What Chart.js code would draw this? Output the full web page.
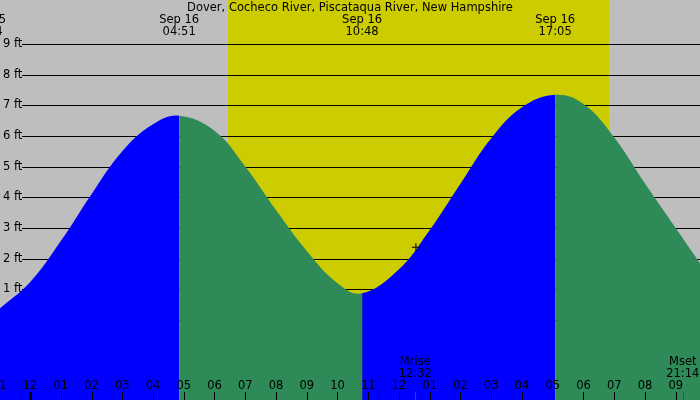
<!DOCTYPE html>
<html>
<head>
<meta charset="utf-8">
<script src="https://cdn.jsdelivr.net/npm/chart.js@4"></script>
<style>
  html, body { margin: 0; padding: 0; background: #bebebe; }
</style>
</head>
<body>
<canvas id="tideChart" width="700" height="400"></canvas>
<script>
// tide curve: hours after midnight Sep 16, height in ft
var hours   = [-0.976, 0, 1, 2, 3, 4, 4.85, 6, 7, 8, 9, 10, 10.8,
               12, 13, 14, 15, 16, 17.08, 18, 19, 20, 21, 21.79];
var heights = [0.38, 1.23, 2.57, 4.1, 5.5, 6.38, 6.66, 6.17, 5.0, 3.58, 2.25, 1.2, 0.87,
               1.65, 2.93, 4.44, 5.92, 6.93, 7.34, 7.04, 5.95, 4.45, 3.0, 1.85];

// high / low labels along the top
var extremeHours = [-1.43, 4.85, 10.80, 17.08];
var extremeDays  = ['Sep 15', 'Sep 16', 'Sep 16', 'Sep 16'];
var extremeTimes = ['22:34', '04:51', '10:48', '17:05'];

// daylight band
var sunHours = [6.44, 18.83];

// moon rise / set
var moonHours = [12.53, 21.23];
var moonNames = ['Mrise', 'Mset'];
var moonTimes = ['12:32', '21:14'];

// the small cross on the curve
var markerHour = 12.55;
var markerHeight = 2.37;

// hour ticks along the bottom
var hourTicks  = [-1, 0, 1, 2, 3, 4, 5, 6, 7, 8, 9, 10, 11, 12, 13, 14, 15, 16, 17, 18, 19, 20, 21];
var hourLabels = ['11', '12', '01', '02', '03', '04', '05', '06', '07', '08', '09', '10',
                  '11', '12', '01', '02', '03', '04', '05', '06', '07', '08', '09'];

var feetTicks = [0, 1, 2, 3, 4, 5, 6, 7, 8, 9];
var title = 'Dover, Cocheco River, Piscataqua River, New Hampshire';

var FONT = '11.5px "DejaVu Sans"';

var backgroundPlugin = {
    id: 'tideBackground',
    beforeDraw: function (chart) {
        var ctx = chart.ctx, x = chart.scales.x, area = chart.chartArea;
        ctx.save();
        ctx.fillStyle = '#bebebe';
        ctx.fillRect(0, 0, chart.width, chart.height);
        var x0 = x.getPixelForValue(sunHours[0]);
        var x1 = x.getPixelForValue(sunHours[1]);
        ctx.fillStyle = '#cccc00';
        ctx.fillRect(x0, area.top, x1 - x0, area.bottom - area.top);
        ctx.restore();
    },
    beforeDatasetsDraw: function (chart) {
        var ctx = chart.ctx, y = chart.scales.y, area = chart.chartArea;
        ctx.save();
        ctx.strokeStyle = '#000';
        ctx.lineWidth = 1;
        feetTicks.forEach(function (v) {
            var py = Math.round(y.getPixelForValue(v)) + 0.5;
            ctx.beginPath();
            ctx.moveTo(22, py);
            ctx.lineTo(area.right, py);
            ctx.stroke();
        });
        ctx.restore();
    }
};

var labelPlugin = {
    id: 'tideLabels',
    afterDraw: function (chart) {
        var ctx = chart.ctx, x = chart.scales.x;
        ctx.save();
        ctx.font = FONT;
        ctx.fillStyle = '#000';
        ctx.textAlign = 'center';
        ctx.textBaseline = 'middle';

        ctx.fillText(title, 350, 8);

        extremeHours.forEach(function (h, i) {
            var px = x.getPixelForValue(h);
            ctx.fillText(extremeDays[i], px, 20);
            ctx.fillText(extremeTimes[i], px, 32);
        });

        moonHours.forEach(function (h, i) {
            var px = x.getPixelForValue(h);
            ctx.fillText(moonNames[i], px, 362);
            ctx.fillText(moonTimes[i], px, 374);
            ctx.fillStyle = '#ff0000';
            ctx.fillRect(Math.round(px), 392, 1, 8);
            ctx.fillStyle = '#000';
        });

        hourTicks.forEach(function (h, i) {
            var px = x.getPixelForValue(h);
            ctx.fillText(hourLabels[i], px, 386);
            if (h === 0) {
                ctx.fillRect(Math.round(px) - 1, 392, 3, 8);
            } else {
                ctx.fillRect(Math.round(px), 392, 1, 8);
            }
        });
        ctx.restore();
    }
};

var tideCtx = document.getElementById('tideChart').getContext('2d');
var tideChart = new Chart(tideCtx, {
    type: 'line',
    data: {
        datasets: [{
            label: 'Tide',
            data: hours.map(function (h, i) { return { x: h, y: heights[i] }; }),
            fill: 'start',
            borderWidth: 0,
            borderColor: 'rgba(0,0,0,0)',
            pointRadius: 0,
            tension: 0.4,
            segment: {
                backgroundColor: function (c) {
                    return c.p1.parsed.y > c.p0.parsed.y ? '#0000ff' : '#2e8b57';
                }
            },
            order: 2
        }, {
            type: 'scatter',
            label: 'Now',
            data: [{ x: markerHour, y: markerHeight }],
            pointStyle: 'cross',
            pointRadius: 4,
            borderColor: '#000',
            borderWidth: 1,
            order: 1
        }]
    },
    options: {
        responsive: false,
        animation: false,
        layout: { padding: 0, autoPadding: false },
        plugins: {
            legend: { display: false },
            tooltip: { enabled: false },
            title: { display: false }
        },
        scales: {
            x: {
                type: 'linear',
                min: -0.976,
                max: 21.79,
                display: false
            },
            y: {
                min: -2.61,
                max: 10.43,
                z: 1,
                afterFit: function (s) {
                    s.width = 0;
                    s.paddingTop = 0;
                    s.paddingBottom = 0;
                },
                grid: { display: false },
                border: { display: false },
                ticks: {
                    mirror: true,
                    padding: 3,
                    stepSize: 1,
                    color: '#000',
                    font: { family: 'DejaVu Sans', size: 11.5 },
                    callback: function (v) {
                        return (v < 0 || v > 9) ? null : v + ' ft';
                    }
                }
            }
        }
    },
    plugins: [backgroundPlugin, labelPlugin]
});
</script>
</body>
</html>
